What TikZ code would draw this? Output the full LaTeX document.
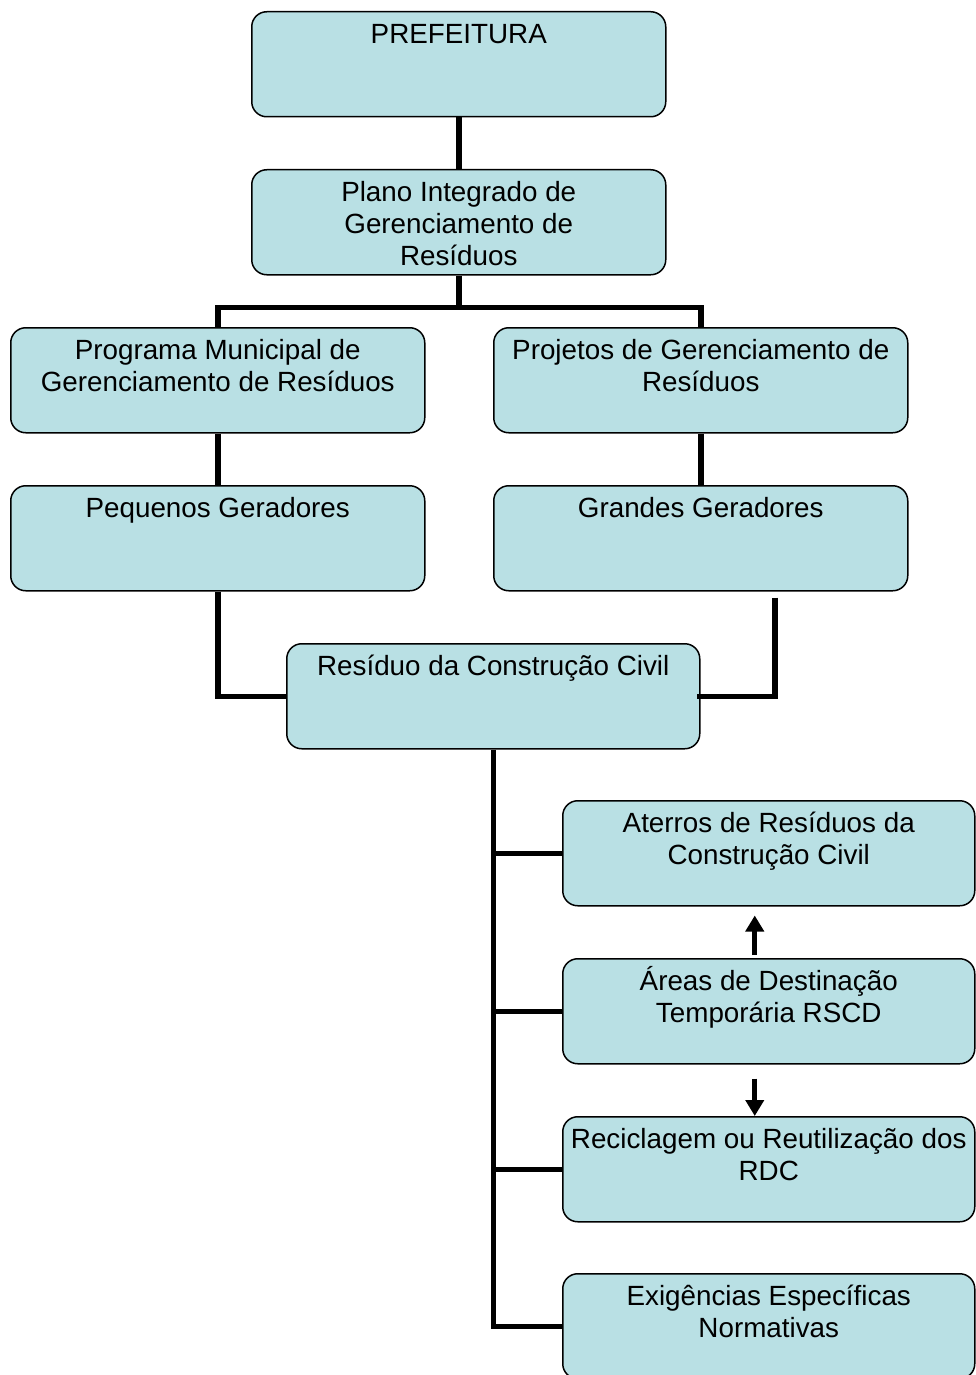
\documentclass[tikz,border=0pt]{standalone}
\usepackage{fontspec}
\setmainfont{Liberation Sans}
\usetikzlibrary{arrows.meta}
\definecolor{boxblue}{RGB}{185,224,228}
\newcommand\bxtext[2]{\parbox[c][105pt][t]{#1}{\centering\rule{0pt}{32pt}#2}}
\begin{document}
\begin{tikzpicture}[x=1pt,y=-1pt,
  box/.style={draw=black, line width=1.5pt, fill=boxblue, rounded corners=15pt, inner sep=0pt, anchor=north west, font=\fontsize{27.8}{32}\selectfont},
  conn/.style={line width=5.5pt, draw=black},
  arr/.style={line width=5pt, draw=black, -{Triangle[width=18pt,length=16pt]}}]
\useasboundingbox (0,0) rectangle (975,1375);
\node[box] (pref) at (251,11) {\bxtext{414pt}{PREFEITURA}};
\node[box] (plano) at (251,169) {\bxtext{414pt}{Plano Integrado de\\Gerenciamento de\\Resíduos}};
\node[box] (prog) at (10,327) {\bxtext{414pt}{Programa Municipal de\\Gerenciamento de Resíduos}};
\node[box] (proj) at (493,327) {\bxtext{414pt}{Projetos de Gerenciamento de\\Resíduos}};
\node[box] (peq) at (10,485) {\bxtext{414pt}{Pequenos Geradores}};
\node[box] (gran) at (493,485) {\bxtext{414pt}{Grandes Geradores}};
\node[box] (res) at (286,643) {\bxtext{413pt}{Resíduo da Construção Civil}};
\node[box] (ater) at (562,800) {\bxtext{412pt}{Aterros de Resíduos da\\Construção Civil}};
\node[box] (areas) at (562,958) {\bxtext{412pt}{Áreas de Destinação\\Temporária RSCD}};
\node[box] (recic) at (562,1116) {\bxtext{412pt}{Reciclagem ou Reutilização dos\\RDC}};
\node[box] (exig) at (562,1273) {\bxtext{412pt}{Exigências Específicas\\Normativas}};
% connectors
\draw[conn] (pref.south) -- (plano.north);
\draw[conn] (plano.south) -- ++(0,32) coordinate (split);
\draw[conn] (prog.north) |- (split) -| (proj.north);
\draw[conn] (prog.south) -- (peq.north);
\draw[conn] (proj.south) -- (gran.north);
\draw[conn] (peq.south) |- (res.west);
\coordinate (gstart) at ([xshift=74pt,yshift=-6pt]gran.south);
\coordinate (gend) at ([xshift=-4pt]res.east);
\draw[conn] (gstart) |- (gend);
\draw[conn] (res.south) |- (exig.west);
\draw[conn] (res.south |- ater.west) -- (ater.west);
\draw[conn] (res.south |- areas.west) -- (areas.west);
\draw[conn] (res.south |- recic.west) -- (recic.west);
% arrows
\draw[arr] ([xshift=-14pt,yshift=3pt]areas.north) -- ([xshift=-14pt,yshift=-9pt]ater.south);
\draw[arr] ([xshift=-14pt,yshift=-14pt]areas.south) -- ([xshift=-14pt]recic.north);
\end{tikzpicture}
\end{document}
